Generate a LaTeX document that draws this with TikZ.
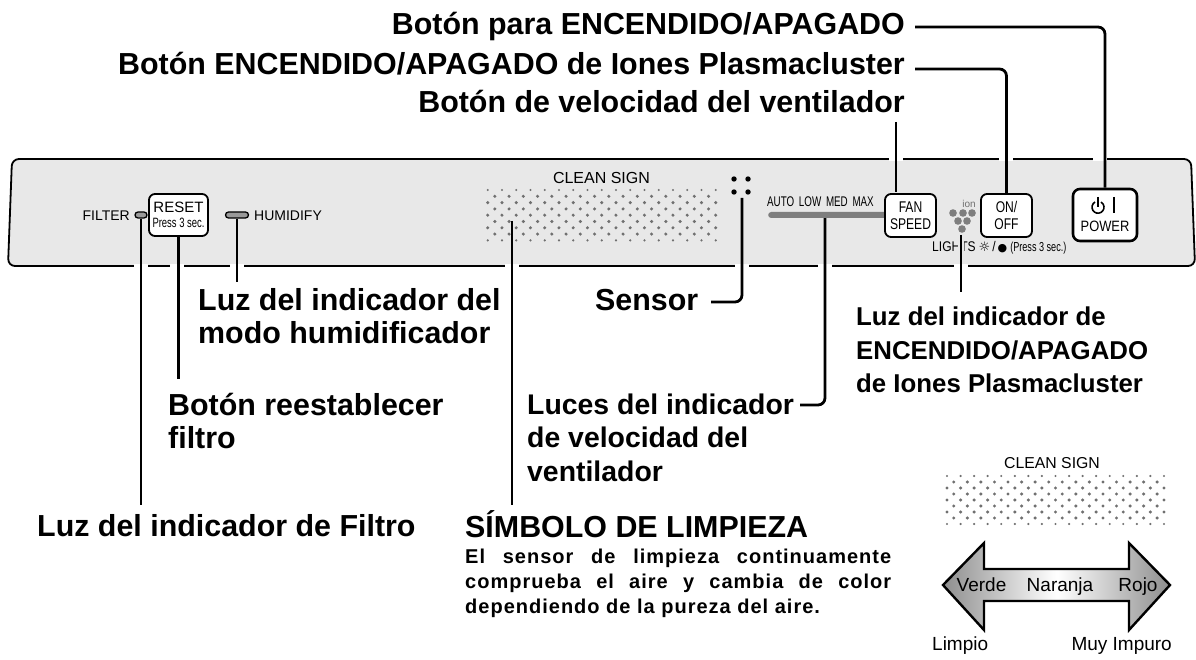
\documentclass[tikz,border=0pt]{standalone}
\usepackage{fontspec}
\setmainfont{Liberation Sans}
\newfontfamily\narrowfont[FakeStretch=.86]{Liberation Sans}
\newfontfamily\keyfont[FakeStretch=.78]{Liberation Sans}
\newfontfamily\tallfont[FakeStretch=.7]{Liberation Sans}
\newfontfamily\spacedfont[LetterSpace=5]{Liberation Sans}
\newfontfamily\symbolfont{DejaVu Sans}
\definecolor{panelgray}{HTML}{E8E8E8}
\definecolor{dotgray}{HTML}{707070}
\definecolor{ledgray}{HTML}{9A9A9A}
\definecolor{bargray}{HTML}{7E7E7E}
\definecolor{arrowgray}{HTML}{8E8E8E}
\newcommand{\dotgrid}[4]{%
  \foreach \row in {0,...,8} {
    \pgfmathsetmacro{\rowy}{#2+\row*#4}
    \pgfmathtruncatemacro{\odd}{mod(\row,2)}
    \pgfmathsetmacro{\dotr}{(\row==0 || \row==8) ? 1.2 : 1.7}
    \ifnum\odd=0
      \foreach \col in {0,...,16}
        \fill [dotgray] (#1+\col*#3,\rowy) circle (\dotr);
    \else
      \foreach \col in {0,...,15}
        \fill [dotgray] (#1+\col*#3+#3/2,\rowy) circle (\dotr);
    \fi
  }}
\begin{document}
\begin{tikzpicture}[x=1pt,y=-1pt]
  \tikzstyle{caption} = [anchor=base west,inner sep=0,font=\fontsize{30.4}{33.5}\selectfont\bfseries];
  \tikzstyle{block} = [anchor=north west,inner sep=0,align=left,font=\fontsize{30.4}{33.5}\selectfont\bfseries];
  \tikzstyle{keybtn} = [draw,line width=1.8,rounded corners=6,fill=white,inner sep=0,minimum width=51,minimum height=43,align=center,font=\fontsize{15.5}{17}\selectfont\keyfont];
  \tikzstyle{led} = [draw,line width=1.3,rounded corners=3,fill=ledgray,inner sep=0,minimum height=6];
  \tikzstyle{paneltext} = [inner sep=0,font=\fontsize{14}{16}\selectfont];
  \tikzstyle{leader} = [line width=2.8,rounded corners=7];
  \tikzstyle{gap} = [white,line width=3.4];
  \tikzstyle{plain} = [inner sep=0,anchor=base,font=\fontsize{19}{22}\selectfont];
  \useasboundingbox (0,0) rectangle (1196,660);

  \draw [fill=panelgray,line width=1.8,rounded corners=7] (12,159) -- (1191,159) -- (1195,266) -- (8,266) -- cycle;
  \foreach \x in {141,177,237,512,742,825,961}
    \draw [gap] (\x-7,266) -- (\x+7,266);
  \foreach \x in {896,1006,1100}
    \draw [gap] (\x-7,159) -- (\x+7,159);

  \node [paneltext,anchor=east] (filtertext) at (130,216) {FILTER};
  \node [led,minimum width=12] (filterled) at (141,215) {};
  \node [keybtn,minimum width=59,minimum height=42] (reset) at (178.5,215) {{\fontsize{15}{15}\selectfont\rmfamily RESET}\\[-2pt]{\fontsize{13.5}{13}\selectfont\tallfont Press 3 sec.}};
  \node [led,minimum width=23] (humidled) at (237,215) {};
  \node [paneltext,anchor=west] (humidtext) at (254,216) {HUMIDIFY};

  \node [paneltext] (cleantext) at (601.5,178) {\fontsize{16}{16}\selectfont CLEAN SIGN};
  \dotgrid{487.7}{190}{14.25}{6.3}
  \coordinate (cleandots) at (512,221);

  \fill (734,179) circle (2.7) (748,179) circle (2.7) (734,192) circle (2.7);
  \fill (748,192) circle (2.7);
  \coordinate (sensor) at (742,198);

  \node [paneltext,anchor=west] (speedtext) at (767,202) {\tallfont\fontsize{14}{16}\selectfont AUTO\hspace{2pt} LOW\hspace{2pt} MED\hspace{2pt} MAX};
  \node [fill=bargray,rounded corners=3,inner sep=0,minimum width=120,minimum height=6,anchor=west] (speedbar) at (768,215) {};
  \node [keybtn] (fan) at (910.5,215.5) {FAN\\SPEED};
  \node [keybtn] (onoff) at (1006.5,215.5) {ON/\\OFF};

  \foreach \x/\y in {953/213,963/213,972/213,958/221,967/221,962/229}
    \fill [bargray] (\x,\y) circle (3.8);
  \node [inner sep=0,text=dotgray,font=\fontsize{10}{10}\selectfont] (iontext) at (969,204) {ion};
  \coordinate (ionlight) at (961,235);
  \node [paneltext,anchor=west] (lightstext) at (932,248) {\narrowfont\fontsize{14}{15}\selectfont LIGHTS\hspace{3pt}{\symbolfont\fontsize{13}{13}\selectfont ☼}\hspace{2pt}/\hspace{2pt}{\symbolfont\fontsize{11}{13}\selectfont ●}\hspace{3pt}{\tallfont\fontsize{13}{15}\selectfont(Press 3 sec.)}};

  \node [keybtn,line width=2.6,rounded corners=7,minimum width=64,minimum height=52] (power) at (1105,215) {};
  \node [inner sep=0,font=\fontsize{15}{16}\selectfont\narrowfont] (powertext) at (1105,226) {POWER};
  \draw [line width=1.6] (1095,202) arc (240:-60:6);
  \draw [line width=1.6] (1098,197) -- (1098,207);
  \draw [line width=1.6] (1114,197) -- (1114,213);

  \node [caption,anchor=base east] (powerlabel) at (905,35) {Botón para ENCENDIDO/APAGADO};
  \node [caption,anchor=base east] (ionbtnlabel) at (905,75) {Botón ENCENDIDO/APAGADO de Iones Plasmacluster};
  \node [caption,anchor=base east] (fanlabel) at (905,113) {Botón de velocidad del ventilador};
  \node [block] (humidlabel) at (198,288) {Luz del indicador del\\modo humidificador};
  \node [block] (resetlabel) at (168,393) {Botón reestablecer\\filtro};
  \node [caption] (filterlabel) at (37,536) {Luz del indicador de Filtro};
  \node [caption] (sensorlabel) at (595,310) {Sensor};
  \node [block,font=\fontsize{28.4}{33.2}\selectfont\bfseries] (speedlabel) at (527,394) {Luces del indicador\\de velocidad del\\ventilador};
  \node [block,font=\fontsize{25.8}{33.5}\selectfont\bfseries] (ionlabel) at (856,307) {Luz del indicador de\\ENCENDIDO/APAGADO\\de Iones Plasmacluster};
  \node [caption] (cleanlabel) at (465,537) {SÍMBOLO DE LIMPIEZA};
  \node [anchor=north west,inner sep=0,text width=426,align=justify,font=\fontsize{20}{24.7}\selectfont\bfseries\spacedfont] (cleannote) at (465,549) {El sensor de limpieza continuamente\linebreak comprueba el aire y cambia de color\linebreak dependiendo de la pureza del aire.};

  \draw [leader] (915,27) -| (power.north);
  \draw [leader] (915,69) -| (onoff.north);
  \draw [leader,shorten >=2] (896,122) -- (896,194);
  \draw [leader] (filterled.south) -- (filterled.south |- 0,505);
  \draw [leader] (reset.south) -- (reset.south |- 0,379);
  \draw [leader] (humidled.south) -- (humidled.south |- 0,282);
  \draw [leader] (cleandots) -- (cleandots |- 0,505);
  \draw [leader] (sensor) |- (711,302);
  \draw [leader] (speedbar.south -| 825,0) |- (800,405);
  \draw [panelgray,line width=6] (ionlight) -- (961,262);
  \draw [leader] (ionlight) -- (ionlight |- 0,292);

  \node [inner sep=0,font=\fontsize{15.8}{16}\selectfont] (signtext) at (1052,463) {CLEAN SIGN};
  \dotgrid{947}{476}{13.56}{6}

  \draw [line width=2.4,left color=arrowgray,right color=arrowgray,middle color=white] (943,585) -- (984,543) -- (984,569) -- (1129,569) -- (1129,543) -- (1170,585) -- (1129,630) -- (1129,601) -- (984,601) -- (984,630) -- cycle;
  \node [plain] (verde) at (981.5,591) {Verde};
  \node [plain] (naranja) at (1060,591) {Naranja};
  \node [plain] (rojo) at (1138,591) {Rojo};
  \node [plain,anchor=base west] (limpio) at (932,650.5) {Limpio};
  \node [plain,anchor=base east] (impuro) at (1172,650.5) {Muy Impuro};
\end{tikzpicture}
\end{document}
